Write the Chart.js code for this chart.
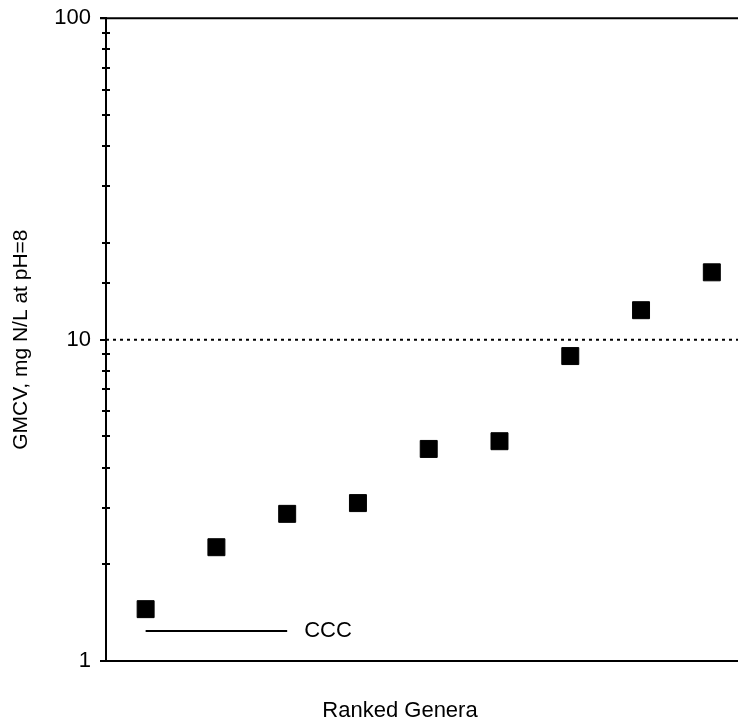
<!DOCTYPE html>
<html>
<head>
<meta charset="utf-8">
<script src="https://cdn.jsdelivr.net/npm/chart.js@4.4.1/dist/chart.umd.min.js"></script>
<style>
  html, body { margin: 0; padding: 0; background: #ffffff; overflow: hidden; }
  #wrap { width: 738px; height: 725px; position: relative; }
  canvas { display: block; }
</style>
</head>
<body>
<div id="wrap"><canvas id="c" width="738" height="725"></canvas></div>
<script>
// ---- data ----
const rankPositions = [0, 1, 2, 3, 4, 5, 6, 7, 8];
const gmcvValues = [1.45, 2.26, 2.87, 3.10, 4.57, 4.83, 8.89, 12.35, 16.2];
const cccRange = [0, 2];
const cccValue = 1.24;
const cccLabel = 'CCC';
const thresholdValue = 10;
const yMajorTicks = [1, 10, 100];
const yTitle = 'GMCV, mg N/L at pH=8';
const xTitle = 'Ranked Genera';

const X_MIN = -0.56, X_MAX = 8.37;
const FONT = 'Liberation Sans, Arial, Helvetica, sans-serif';
const FS = 22;

const points = rankPositions.map((x, i) => ({ x: x, y: gmcvValues[i] }));
const cccLine = cccRange.map(x => ({ x: x, y: cccValue }));
const thresholdLine = [{ x: X_MIN, y: thresholdValue }, { x: X_MAX, y: thresholdValue }];

const decorPlugin = {
  id: 'decor',
  afterDraw(chart) {
    const ctx = chart.ctx;
    const ys = chart.scales.y;
    const xs = chart.scales.x;
    const area = chart.chartArea;
    const ax = area.left;
    ctx.save();
    ctx.strokeStyle = '#000';
    ctx.lineWidth = 2;
    // tick marks on y axis
    ys.ticks.forEach(t => {
      const py = Math.round(ys.getPixelForValue(t.value));
      ctx.beginPath();
      if (yMajorTicks.includes(t.value)) {
        ctx.moveTo(ax - 6, py); ctx.lineTo(ax, py);
      } else {
        ctx.moveTo(ax - 4, py); ctx.lineTo(ax + 4, py);
      }
      ctx.stroke();
    });
    // top frame line
    ctx.beginPath();
    ctx.moveTo(ax - 6, area.top);
    ctx.lineTo(area.right, area.top);
    ctx.stroke();
    // CCC label
    ctx.fillStyle = '#000';
    ctx.font = FS + 'px ' + FONT;
    ctx.textAlign = 'left';
    ctx.textBaseline = 'middle';
    ctx.fillText(cccLabel, xs.getPixelForValue(cccRange[1]) + 17, ys.getPixelForValue(cccValue));
    // x title
    ctx.textAlign = 'center';
    ctx.fillText(xTitle, 400, 711);
    ctx.restore();
  }
};

new Chart(document.getElementById('c'), {
  type: 'scatter',
  data: {
    datasets: [
      {
        label: 'GMCV',
        data: points,
        pointStyle: 'rect',
        pointRadius: 12,
        pointHoverRadius: 12,
        backgroundColor: '#000',
        borderColor: '#000',
        borderWidth: 1,
        order: 1
      },
      {
        label: 'CCC',
        type: 'line',
        data: cccLine,
        borderColor: '#000',
        borderWidth: 2,
        pointRadius: 0,
        fill: false,
        order: 2
      },
      {
        label: 'threshold',
        type: 'line',
        data: thresholdLine,
        borderColor: '#000',
        borderWidth: 2,
        borderDash: [3, 4],
        pointRadius: 0,
        fill: false,
        order: 3
      }
    ]
  },
  options: {
    responsive: false,
    animation: false,
    events: [],
    layout: { autoPadding: false, padding: { top: 18, right: 0, bottom: 0, left: 0 } },
    plugins: { legend: { display: false }, tooltip: { enabled: false } },
    scales: {
      x: {
        type: 'linear',
        min: X_MIN,
        max: X_MAX,
        ticks: { display: false },
        grid: { display: false, drawTicks: false },
        border: { display: true, color: '#000', width: 2 },
        title: { display: false },
        afterFit(s) { s.height = 64; }
      },
      y: {
        type: 'logarithmic',
        min: 1,
        max: 100,
        ticks: {
          autoSkip: false,
          padding: 15,
          color: '#000',
          font: { family: FONT, size: FS, lineHeight: 0.3 },
          callback: (v) => yMajorTicks.includes(v) ? String(v) : ''
        },
        grid: { display: false, drawTicks: false },
        border: { display: true, color: '#000', width: 2 },
        title: {
          display: true,
          text: yTitle,
          color: '#000',
          font: { family: FONT, size: 21 },
          padding: { top: 9, bottom: 0 }
        },
        afterFit(s) { s.width = 106; }
      }
    }
  },
  plugins: [decorPlugin]
});
</script>
</body>
</html>
